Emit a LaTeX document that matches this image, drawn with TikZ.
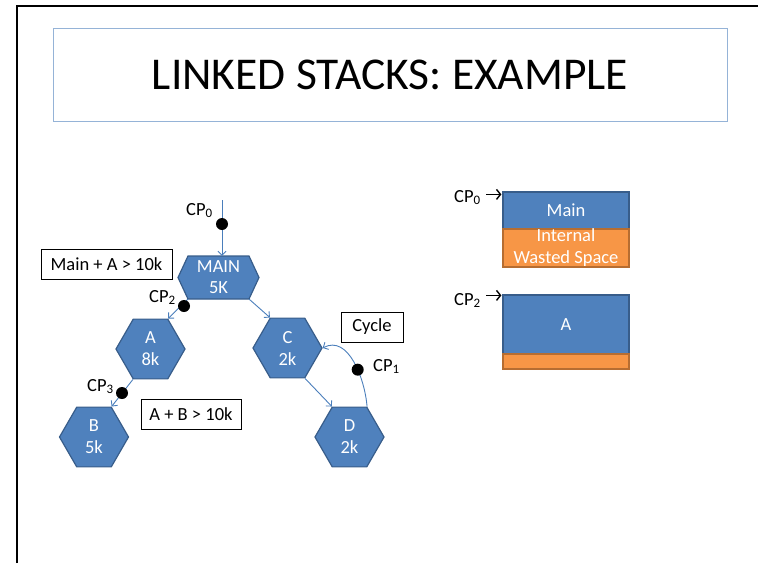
\documentclass[tikz,border=0pt]{standalone}
\usepackage{fontspec}
\setmainfont{Carlito}
\usetikzlibrary{shapes.geometric,arrows.meta,calc}
\definecolor{hexblue}{HTML}{4F81BD}
\definecolor{hexedge}{HTML}{385D8A}
\definecolor{wasteor}{HTML}{F79646}
\definecolor{wasteedge}{HTML}{B66D31}
\definecolor{titleedge}{HTML}{95B3D7}
\definecolor{linkblue}{HTML}{4A7EBB}
\begin{document}
\begin{tikzpicture}[x=1pt,y=1pt,
  hexnode/.style={regular polygon, regular polygon sides=6, minimum size=69pt, inner sep=0pt,
    fill=hexblue, draw=hexedge, line width=1.2pt, text=white,
    font=\fontsize{18.5}{22}\selectfont, align=center},
  link/.style={draw=linkblue, line width=0.9pt, -{Straight Barb[length=4pt,width=8pt]}},
  blackarrow/.style={draw=black, line width=1.4pt, -{Straight Barb[length=4pt,width=10pt]}},
  dot/.style={circle, fill=black, draw=none, inner sep=0pt, minimum size=12pt},
  cplabel/.style={anchor=base west, font=\fontsize{18.5}{22}\selectfont, inner sep=0pt},
  notebox/.style={draw=black, line width=0.8pt, fill=white, font=\fontsize{18.5}{22}\selectfont, inner sep=0pt},
  blueblk/.style={fill=hexblue, draw=hexedge, line width=1.2pt, minimum width=126pt, inner sep=0pt,
    text=white, font=\fontsize{18.5}{22}\selectfont, align=center},
  orangeblk/.style={fill=wasteor, draw=wasteedge, line width=1.2pt, minimum width=126pt, inner sep=0pt,
    text=white, font=\fontsize{18.5}{22}\selectfont, align=center}
]
\useasboundingbox (0,0) rectangle (758,-563);
% outer frame
\draw[line width=2pt] (17,-563) -- (17,-6) -- (758,-6);
% title
\node[draw=titleedge, line width=1pt, minimum width=674pt, minimum height=93pt, inner sep=0pt,
  font=\fontsize{45.5}{50}\selectfont] (title) at (390,-74.5) {LINKED STACKS: EXAMPLE};

% MAIN hexagon (stretched)
\filldraw[fill=hexblue, draw=hexedge, line width=1.2pt]
  (178,-277.5) -- (188,-256) -- (249,-256) -- (259,-277.5) -- (249,-299) -- (188,-299) -- cycle;
\node[minimum width=61pt, minimum height=43pt, inner sep=0pt, text=white,
  font=\fontsize{18.5}{21}\selectfont, align=center] (main) at (218.5,-277.5) {MAIN\\5K};

% other hexagons
\node[hexnode] (A) at (150.5,-349) {A\\8k};
\node[hexnode] (C) at (287.5,-348) {C\\2k};
\node[hexnode] (B) at (94,-437) {B\\5k};
\node[hexnode] (D) at (349.5,-437) {D\\2k};

% connectors
\coordinate (cp0top) at (222,-200);
\draw[link] (cp0top) -- (cp0top |- main.north);
\draw[link] (main.south west) -- (A.60);
\draw[link] (main.south east) -- (C.120);
\draw[link] (A.240) -- (B.60);
\draw[link] (C.300) -- (D.120);
\draw[link] (D.60) to[out=95,in=28] node[dot, pos=0.4] (d1) {} (C.0);

% dots
\node[dot] (d0) at (222,-224) {};
\node[dot] (d2) at (184,-306) {};
\node[dot] (d3) at (122,-393) {};

% CP labels
\node[cplabel] (cp0) at (186,-215) {CP\textsubscript{0}};
\node[cplabel] (cp2) at (149,-302) {CP\textsubscript{2}};
\node[cplabel] (cp3) at (87,-391) {CP\textsubscript{3}};
\node[cplabel] (cp1) at (373,-371) {CP\textsubscript{1}};

% note boxes
\node[notebox, minimum width=131pt, minimum height=30pt] (noteMA) at (106.5,-264) {Main + A > 10k};
\node[notebox, minimum width=100pt, minimum height=30pt] (noteAB) at (191,-414) {A + B > 10k};
\node[notebox, minimum width=62pt, minimum height=30pt] (cycle) at (372,-327) {Cycle};

% right side stacks
\node[blueblk, minimum height=37pt] (mainblk) at (566,-210.5) {Main};
\node[orangeblk, minimum height=38pt] (waste) at (566,-248) {Internal\\Wasted Space};
\node[blueblk, minimum height=59pt] (ablk) at (566,-324.5) {A};
\node[orangeblk, minimum height=15pt] (awaste) at (566,-361.5) {};

\node[cplabel] (cpr0) at (454,-202) {CP\textsubscript{0}};
\node[cplabel] (cpr2) at (454,-305) {CP\textsubscript{2}};
\draw[blackarrow] ($(mainblk.north west)+(-16,-3)$) -- ($(mainblk.north west)+(-1,-3)$);
\draw[blackarrow] ($(ablk.north west)+(-16,-1)$) -- ($(ablk.north west)+(-1,-1)$);
\end{tikzpicture}
\end{document}
